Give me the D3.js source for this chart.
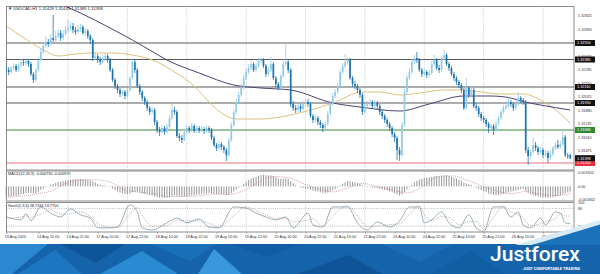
<!DOCTYPE html>
<html>
<head>
<meta charset="utf-8">
<script src="https://cdn.jsdelivr.net/npm/d3@7"></script>
<style>
    html, body { margin: 0; padding: 0; background: #ffffff; }
    svg { display: block; font-family: "Liberation Sans", "DejaVu Sans", sans-serif; }
</style>
</head>
<body>
<div id="chart"></div>
<script>
'use strict';

/* Котировки USDCAD H1: бар 0 = 13 Aug 2020 21:00, открытие бара = закрытие предыдущего */
const firstOpen = 1.3232;
const closes = [
    1.3228,1.3226,1.3230,1.3232,1.3228,1.3233,1.3236,1.3235,1.3237,1.3234,
    1.3224,1.3218,1.3228,1.3238,1.3246,1.3252,1.3256,1.3254,1.3260,1.3258,
    1.3262,1.3265,1.3260,1.3264,1.3268,1.3270,1.3272,1.3268,1.3266,1.3269,
    1.3271,1.3265,1.3267,1.3262,1.3258,1.3240,1.3242,1.3238,1.3236,1.3240,
    1.3242,1.3238,1.3228,1.3218,1.3212,1.3208,1.3204,1.3206,1.3202,1.3208,
    1.3220,1.3236,1.3228,1.3212,1.3206,1.3200,1.3196,1.3190,1.3186,1.3188,
    1.3176,1.3168,1.3166,1.3170,1.3166,1.3171,1.3180,1.3188,1.3186,1.3162,
    1.3160,1.3158,1.3166,1.3170,1.3168,1.3172,1.3167,1.3170,1.3168,1.3169,
    1.3167,1.3170,1.3168,1.3160,1.3153,1.3150,1.3154,1.3151,1.3148,1.3143,
    1.3158,1.3173,1.3186,1.3196,1.3203,1.3210,1.3220,1.3226,1.3230,1.3234,
    1.3228,1.3232,1.3237,1.3238,1.3232,1.3224,1.3228,1.3234,1.3220,1.3214,
    1.3210,1.3222,1.3234,1.3236,1.3228,1.3194,1.3190,1.3188,1.3192,1.3189,
    1.3194,1.3196,1.3194,1.3182,1.3178,1.3180,1.3176,1.3173,1.3170,1.3174,
    1.3184,1.3194,1.3202,1.3206,1.3212,1.3226,1.3232,1.3236,1.3238,1.3220,
    1.3214,1.3212,1.3208,1.3203,1.3186,1.3192,1.3194,1.3196,1.3192,1.3195,
    1.3192,1.3186,1.3182,1.3178,1.3174,1.3170,1.3164,1.3160,1.3148,1.3143,
    1.3173,1.3206,1.3220,1.3226,1.3236,1.3240,1.3238,1.3228,1.3224,1.3226,
    1.3223,1.3225,1.3234,1.3238,1.3230,1.3228,1.3240,1.3243,1.3234,1.3230,
    1.3224,1.3220,1.3216,1.3213,1.3208,1.3190,1.3210,1.3203,1.3208,1.3192,
    1.3190,1.3184,1.3180,1.3178,1.3174,1.3170,1.3172,1.3168,1.3174,1.3180,
    1.3186,1.3190,1.3192,1.3196,1.3194,1.3190,1.3194,1.3200,1.3198,1.3196,
    1.3148,1.3142,1.3146,1.3153,1.3150,1.3146,1.3148,1.3143,1.3145,1.3140,
    1.3144,1.3150,1.3153,1.3151,1.3154,1.3161,1.3143,1.31428,1.31398
];
const highs = [
    1.3235,1.3231,1.3232,1.3235,1.3234,1.3235,1.3239,1.3238,1.3240,1.3239,
    1.3236,1.3226,1.3230,1.3241,1.3250,1.3256,1.3262,1.3259,1.3264,1.3283,
    1.3267,1.3269,1.3268,1.3268,1.3272,1.3278,1.3276,1.3275,1.3271,1.3273,
    1.3274,1.3273,1.3270,1.3269,1.3264,1.3260,1.3246,1.3244,1.3241,1.3243,
    1.3245,1.3244,1.3240,1.3230,1.3220,1.3214,1.3210,1.3208,1.3208,1.3210,
    1.3222,1.3240,1.3238,1.3230,1.3214,1.3208,1.3202,1.3198,1.3192,1.3191,
    1.3190,1.3178,1.3171,1.3173,1.3172,1.3174,1.3183,1.3195,1.3191,1.3188,
    1.3165,1.3163,1.3168,1.3173,1.3172,1.3175,1.3174,1.3173,1.3172,1.3172,
    1.3171,1.3173,1.3172,1.3170,1.3162,1.3155,1.3157,1.3156,1.3153,1.3150,
    1.3160,1.3176,1.3189,1.3199,1.3206,1.3214,1.3223,1.3229,1.3234,1.3238,
    1.3236,1.3235,1.3240,1.3241,1.3240,1.3234,1.3231,1.3241,1.3236,1.3222,
    1.3216,1.3224,1.3237,1.3255,1.3238,1.3230,1.3197,1.3193,1.3195,1.3194,
    1.3197,1.3199,1.3199,1.3196,1.3184,1.3183,1.3182,1.3178,1.3175,1.3177,
    1.3187,1.3197,1.3205,1.3209,1.3215,1.3229,1.3235,1.3244,1.3241,1.3240,
    1.3222,1.3217,1.3214,1.3210,1.3205,1.3195,1.3197,1.3199,1.3198,1.3198,
    1.3197,1.3194,1.3188,1.3184,1.3180,1.3176,1.3172,1.3166,1.3162,1.3151,
    1.3176,1.3209,1.3223,1.3230,1.3239,1.3243,1.3246,1.3240,1.3230,1.3229,
    1.3228,1.3228,1.3237,1.3243,1.3240,1.3233,1.3242,1.3248,1.3245,1.3236,
    1.3232,1.3226,1.3222,1.3218,1.3215,1.3210,1.3220,1.3212,1.3211,1.3210,
    1.3195,1.3192,1.3186,1.3182,1.3180,1.3176,1.3175,1.3174,1.3177,1.3182,
    1.3188,1.3193,1.3195,1.3201,1.3198,1.3196,1.3197,1.3206,1.3202,1.3200,
    1.3198,1.3151,1.3149,1.3161,1.3156,1.3152,1.3151,1.3150,1.3148,1.3147,
    1.3147,1.3152,1.3156,1.3158,1.3157,1.3168,1.3163,1.3145,1.31443
];
const lows = [
    1.3225,1.3223,1.3224,1.3228,1.3226,1.3226,1.3231,1.3232,1.3233,1.3231,
    1.3222,1.3215,1.3216,1.3226,1.3236,1.3244,1.3250,1.3251,1.3252,1.3256,
    1.3255,1.3260,1.3257,1.3258,1.3262,1.3265,1.3267,1.3265,1.3263,1.3264,
    1.3266,1.3263,1.3262,1.3259,1.3254,1.3237,1.3238,1.3235,1.3233,1.3234,
    1.3238,1.3235,1.3226,1.3216,1.3209,1.3205,1.3201,1.3202,1.3199,1.3200,
    1.3206,1.3218,1.3225,1.3210,1.3203,1.3197,1.3193,1.3187,1.3183,1.3184,
    1.3173,1.3165,1.3162,1.3164,1.3163,1.3164,1.3169,1.3178,1.3183,1.3160,
    1.3157,1.3155,1.3157,1.3164,1.3165,1.3166,1.3165,1.3165,1.3165,1.3166,
    1.3164,1.3165,1.3165,1.3158,1.3151,1.3147,1.3148,1.3148,1.3145,1.3137,
    1.3141,1.3156,1.3171,1.3184,1.3194,1.3201,1.3208,1.3218,1.3224,1.3228,
    1.3226,1.3226,1.3230,1.3235,1.3230,1.3221,1.3222,1.3226,1.3218,1.3211,
    1.3208,1.3208,1.3220,1.3232,1.3225,1.3191,1.3187,1.3185,1.3186,1.3186,
    1.3187,1.3192,1.3191,1.3180,1.3175,1.3176,1.3173,1.3170,1.3166,1.3168,
    1.3172,1.3182,1.3192,1.3200,1.3204,1.3210,1.3224,1.3230,1.3233,1.3218,
    1.3211,1.3209,1.3205,1.3200,1.3183,1.3184,1.3190,1.3192,1.3189,1.3190,
    1.3189,1.3183,1.3179,1.3175,1.3171,1.3167,1.3161,1.3156,1.3138,1.3137,
    1.3141,1.3171,1.3204,1.3218,1.3224,1.3234,1.3235,1.3226,1.3221,1.3222,
    1.3220,1.3221,1.3223,1.3232,1.3228,1.3225,1.3226,1.3238,1.3232,1.3227,
    1.3222,1.3217,1.3213,1.3210,1.3205,1.3188,1.3188,1.3200,1.3201,1.3190,
    1.3187,1.3181,1.3177,1.3175,1.3171,1.3165,1.3168,1.3163,1.3166,1.3172,
    1.3178,1.3184,1.3188,1.3190,1.3191,1.3187,1.3188,1.3192,1.3195,1.3193,
    1.3145,1.3133,1.3139,1.3144,1.3147,1.3143,1.3144,1.3140,1.3141,1.3135,
    1.3138,1.3142,1.3148,1.3149,1.3149,1.3152,1.3141,1.3139,1.31389
];

/* Скользящие средние: номер бара и значение */
const maFastBars = [0,6,15,21,28,34,42,51,61,68,73,78,82,86,93,103,115,123,132,144,151,159,167,177,185,192,200,209,216,220,228];
const maFast = [1.3272,1.3262,1.3248,1.3242,1.3244,1.3245,1.3245,1.3243,1.3236,1.3226,1.3218,1.3207,1.3196,1.3187,1.3179,1.3179,1.3183,1.3188,1.3195,1.3206,1.3206,1.3203,1.3205,1.3208,1.3208,1.3206,1.3204,1.3204,1.3198,1.3192,1.3175];
const maSlowBars = [16,19,30,42,51,58,65,78,92,103,115,132,143,159,171,185,196,204,208,216,228];
const maSlow = [1.3300,1.3297,1.3285,1.3270,1.3258,1.3248,1.3238,1.3225,1.3213,1.3210,1.3208,1.3195,1.3191,1.3187,1.3194,1.3202,1.3202,1.3200,1.3197,1.3193,1.3188];

/* Горизонтальные уровни */
const levelPrices = [1.32550, 1.32385, 1.32110, 1.31950, 1.31680, 1.31350];
const levelKinds = ['gray', 'gray', 'gray', 'gray', 'green', 'red'];
const lastPrice = 1.31398;
const priceTicks = [1.32825,1.32690,1.32555,1.32420,1.32285,1.32150,1.32015,1.31880,1.31745,1.31610,1.31475];

/* MACD(12,26,9) */
const macdMain = [
    -0.00140,-0.00142,-0.00138,-0.00132,-0.00130,-0.00122,-0.00112,-0.00104,-0.00095,-0.00090,
    -0.00092,-0.00098,-0.00090,-0.00074,-0.00052,-0.00030,-0.00010,0.00005,0.00022,0.00034,
    0.00046,0.00058,0.00064,0.00072,0.00080,0.00088,0.00095,0.00098,0.00099,0.00100,
    0.00101,0.00098,0.00096,0.00092,0.00085,0.00066,0.00052,0.00038,0.00026,0.00018,
    0.00012,0.00004,-0.00010,-0.00030,-0.00050,-0.00068,-0.00084,-0.00095,-0.00105,-0.00108,
    -0.00100,-0.00080,-0.00072,-0.00078,-0.00086,-0.00095,-0.00104,-0.00114,-0.00124,-0.00128,
    -0.00138,-0.00148,-0.00155,-0.00156,-0.00158,-0.00156,-0.00148,-0.00136,-0.00126,-0.00132,
    -0.00138,-0.00142,-0.00140,-0.00134,-0.00130,-0.00124,-0.00120,-0.00114,-0.00110,-0.00106,
    -0.00102,-0.00096,-0.00092,-0.00094,-0.00100,-0.00106,-0.00108,-0.00110,-0.00112,-0.00118,
    -0.00112,-0.00094,-0.00070,-0.00044,-0.00018,0.00008,0.00036,0.00062,0.00086,0.00108,
    0.00120,0.00132,0.00144,0.00154,0.00158,0.00154,0.00150,0.00150,0.00140,0.00126,
    0.00110,0.00104,0.00106,0.00108,0.00102,0.00070,0.00042,0.00018,0.00000,-0.00014,
    -0.00022,-0.00028,-0.00032,-0.00044,-0.00056,-0.00064,-0.00072,-0.00080,-0.00088,-0.00090,
    -0.00084,-0.00070,-0.00052,-0.00034,-0.00014,0.00012,0.00036,0.00056,0.00072,0.00070,
    0.00062,0.00054,0.00046,0.00036,0.00014,0.00002,-0.00006,-0.00012,-0.00018,-0.00020,
    -0.00024,-0.00032,-0.00040,-0.00050,-0.00060,-0.00070,-0.00082,-0.00094,-0.00112,-0.00126,
    -0.00112,-0.00078,-0.00042,-0.00010,0.00024,0.00054,0.00078,0.00092,0.00102,0.00112,
    0.00118,0.00122,0.00130,0.00138,0.00140,0.00140,0.00146,0.00150,0.00148,0.00142,
    0.00132,0.00120,0.00106,0.00092,0.00076,0.00050,0.00040,0.00028,0.00020,0.00002,
    -0.00014,-0.00032,-0.00050,-0.00066,-0.00082,-0.00098,-0.00108,-0.00118,-0.00122,-0.00120,
    -0.00114,-0.00104,-0.00094,-0.00082,-0.00072,-0.00066,-0.00058,-0.00048,-0.00040,-0.00034,
    -0.00062,-0.00090,-0.00110,-0.00120,-0.00130,-0.00138,-0.00144,-0.00150,-0.00152,-0.00156,
    -0.00154,-0.00148,-0.00140,-0.00132,-0.00124,-0.00108,-0.00096,-0.00082,-0.00073
];
const macdSignalBars = [0,6,12,18,24,30,36,42,48,54,60,66,72,78,84,90,96,102,108,114,120,126,132,138,144,150,156,162,168,174,180,186,192,198,204,210,216,222,228];
const macdSignal = [-0.00150,-0.00135,-0.00105,-0.00065,0.00040,0.00085,0.00090,0.00060,-0.00050,-0.00080,-0.00100,-0.00140,-0.00140,-0.00130,-0.00105,-0.00110,-0.00060,0.00060,0.00135,0.00120,0.00040,-0.00030,-0.00075,-0.00020,0.00040,0.00000,-0.00050,-0.00090,-0.00010,0.00130,0.00145,0.00090,0.00010,-0.00060,-0.00100,-0.00070,-0.00110,-0.00125,-0.000975];
const macdTicks = [0.001902, 0, -0.001802];
const macdTickLabels = ['0.001902', '0.00', '-0.001802'];

/* Stochastic(5,3,3) */
const stochBars = [0,6,8,10,14,18,22,26,30,34,37,41,45,50,53,55,59,65,69,73,78,82,86,92,97,101,105,109,113,116,122,124,128,132,138,142,146,150,155,159,163,167,169,172,176,179,183,187,190,193,197,201,204,207,209,212,216,218,222,224,226,228];
const stochMain = [51,41,62,38,85,64,51,78,58,47,14,14,17,92,68,14,7,31,47,31,44,17,14,85,81,64,51,41,51,14,64,24,17,85,85,31,7,34,17,37,85,85,31,41,68,31,14,58,14,2,85,85,51,68,24,14,47,24,68,64,31,28.72];
const stochSignal = [48,50,55,50,60,75,60,62,68,52,30,16,15,60,82,55,20,22,40,38,38,30,16,55,85,72,58,46,46,35,40,45,20,55,88,55,18,20,25,28,60,88,60,40,52,50,25,35,36,10,50,88,68,58,45,22,28,35,45,62,54,53.78];
const stochTicks = [100, 80, 20, 0];
const stochLevels = [80, 20];

/* Подписи оси времени */
const timeLabelBars = [0,13,25,37,49,61,73,85,97,109,121,133,145,157,169,181,193,205,217,229];
const timeLabels = ['13 Aug 2020','14 Aug 10:00','14 Aug 22:00','17 Aug 10:00','17 Aug 22:00','18 Aug 10:00',
    '18 Aug 22:00','19 Aug 10:00','19 Aug 22:00','20 Aug 10:00','20 Aug 22:00','21 Aug 10:00','21 Aug 22:00',
    '24 Aug 10:00','24 Aug 22:00','25 Aug 10:00','25 Aug 22:00','26 Aug 10:00','26 Aug 22:00','27 Aug 10:00'];
const gridBars = [25,49,73,97,121,145,169,193,217];

/**
 График котировок в стиле терминала
 @class ForexChart
 */
class ForexChart {
    constructor(params) {
        this.params = params;
        this.left = 6.5;
        this.right = 574;
        this.main = {top: 6.5, bottom: 170};
        this.macd = {top: 171, bottom: 201};
        this.stoch = {top: 202.5, bottom: 232};

        // шкалы
        this.x = d3.scaleLinear().domain([0, 229]).range([6.2, 572.7]);
        this.yPrice = d3.scaleLinear().domain([1.3128, 1.3292]).range([170, 6]);
        this.yMacd = d3.scaleLinear().domain([-0.001802, 0.001902]).range([199.5, 172.5]);
        this.yStoch = d3.scaleLinear().domain([0, 100]).range([232, 202.5]);
    }

    makeSVG() {
        let svg = d3.select(this.params.id).append('svg')
            .attr('width', this.params.width)
            .attr('height', this.params.height);
        svg.append('rect').attr('width', this.params.width).attr('height', this.params.height).attr('fill', '#ffffff');
        svg.append('defs').append('clipPath').attr('id', 'mainClip')
            .append('rect')
            .attr('x', this.left).attr('y', this.main.top)
            .attr('width', this.right - this.left).attr('height', this.main.bottom - this.main.top);
        return svg;
    }

    /* рамки панелей и пунктирная сетка */
    drawFrames(svg) {
        [this.main, this.macd, this.stoch].forEach((p) => {
            svg.append('rect')
                .attr('x', this.left).attr('y', p.top)
                .attr('width', this.right - this.left).attr('height', p.bottom - p.top)
                .attr('fill', 'none').attr('stroke', '#8a8a8a').attr('stroke-width', 1);

            gridBars.forEach((b) => {
                svg.append('line')
                    .attr('x1', this.x(b)).attr('x2', this.x(b))
                    .attr('y1', p.top).attr('y2', p.bottom)
                    .attr('stroke', '#b4b4b4').attr('stroke-width', 0.7)
                    .attr('stroke-dasharray', '1,1.2');
            });
        });
    }

    drawLevels(svg) {
        let colors = {gray: '#5a5a5a', green: '#3b8a3b', red: '#e8737f'};
        levelPrices.forEach((p, i) => {
            svg.append('line')
                .attr('x1', this.left).attr('x2', this.right)
                .attr('y1', this.yPrice(p)).attr('y2', this.yPrice(p))
                .attr('stroke', colors[levelKinds[i]]).attr('stroke-width', 1);
        });
    }

    drawCandles(svg) {
        let g = svg.append('g').attr('clip-path', 'url(#mainClip)');
        closes.forEach((c, i) => {
            let o = i === 0 ? firstOpen : closes[i - 1];
            let up = c >= o;
            let color = up ? '#92cbe8' : '#1d74b0';
            let cx = this.x(i);

            g.append('line')
                .attr('x1', cx).attr('x2', cx)
                .attr('y1', this.yPrice(highs[i])).attr('y2', this.yPrice(lows[i]))
                .attr('stroke', color).attr('stroke-width', 0.8);

            let yTop = this.yPrice(Math.max(o, c));
            let h = Math.max(0.7, Math.abs(this.yPrice(o) - this.yPrice(c)));
            g.append('rect')
                .attr('x', cx - 0.85).attr('y', yTop)
                .attr('width', 1.7).attr('height', h)
                .attr('fill', color);
        });
    }

    drawMovingAverages(svg) {
        let g = svg.append('g').attr('clip-path', 'url(#mainClip)');
        let line = d3.line()
            .x((d) => this.x(d.bar))
            .y((d) => this.yPrice(d.v))
            .curve(d3.curveMonotoneX);

        let fast = maFastBars.map((b, i) => ({bar: b, v: maFast[i]}));
        let slow = maSlowBars.map((b, i) => ({bar: b, v: maSlow[i]}));

        g.append('path').attr('d', line(fast))
            .attr('fill', 'none').attr('stroke', '#dcc07e').attr('stroke-width', 1);
        g.append('path').attr('d', line(slow))
            .attr('fill', 'none').attr('stroke', '#4e4072').attr('stroke-width', 1);
    }

    /* правая шкала цены с метками уровней */
    drawPriceAxis(svg) {
        let axis = d3.axisRight(this.yPrice)
            .tickValues(priceTicks)
            .tickSize(0)
            .tickPadding(4)
            .tickFormat(d3.format('.5f'));
        let g = svg.append('g').attr('transform', `translate(${this.right},0)`).call(axis);
        g.select('.domain').remove();
        g.selectAll('text').attr('font-size', 3.8).attr('fill', '#333').attr('font-family', '"Liberation Sans", sans-serif');

        let boxes = levelPrices.map((p, i) => ({p: p, kind: levelKinds[i]}));
        boxes.push({p: lastPrice, kind: 'last'});
        let fills = {gray: '#111111', green: '#2f8a2f', red: '#e8303c', last: '#111111'};

        boxes.forEach((b) => {
            let y = this.yPrice(b.p);
            svg.append('rect')
                .attr('x', this.right + 1).attr('y', y - 3)
                .attr('width', 20).attr('height', 6)
                .attr('fill', fills[b.kind]);
            svg.append('text')
                .attr('x', this.right + 3).attr('y', y + 1.4)
                .attr('font-size', 3.8).attr('fill', '#ffffff')
                .text(d3.format('.5f')(b.p));
        });
    }

    drawMacd(svg) {
        let y0 = this.yMacd(0);
        macdMain.forEach((v, i) => {
            svg.append('line')
                .attr('x1', this.x(i)).attr('x2', this.x(i))
                .attr('y1', y0).attr('y2', this.yMacd(v))
                .attr('stroke', '#8c8c8c').attr('stroke-width', 0.9);
        });

        let line = d3.line()
            .x((d) => this.x(d.bar))
            .y((d) => this.yMacd(d.v))
            .curve(d3.curveMonotoneX);
        let sig = macdSignalBars.map((b, i) => ({bar: b, v: macdSignal[i]}));
        svg.append('path').attr('d', line(sig))
            .attr('fill', 'none').attr('stroke', '#c49090').attr('stroke-width', 0.8)
            .attr('stroke-dasharray', '1,1');

        let axis = d3.axisRight(this.yMacd)
            .tickValues(macdTicks)
            .tickSize(0)
            .tickPadding(4)
            .tickFormat((d, i) => macdTickLabels[i]);
        let g = svg.append('g').attr('transform', `translate(${this.right},0)`).call(axis);
        g.select('.domain').remove();
        g.selectAll('text').attr('font-size', 3.8).attr('fill', '#333');

        svg.append('text')
            .attr('x', 8).attr('y', this.macd.top + 4.2)
            .attr('font-size', 3.8).attr('fill', '#222')
            .text('MACD(12,26,9) -0.000730 -0.000975');
    }

    drawStoch(svg) {
        stochLevels.forEach((l) => {
            svg.append('line')
                .attr('x1', this.left).attr('x2', this.right)
                .attr('y1', this.yStoch(l)).attr('y2', this.yStoch(l))
                .attr('stroke', '#9a9a9a').attr('stroke-width', 0.7)
                .attr('stroke-dasharray', '1,1.2');
        });

        let line = d3.line()
            .x((d) => this.x(d.bar))
            .y((d) => this.yStoch(d.v))
            .curve(d3.curveMonotoneX);
        let main = stochBars.map((b, i) => ({bar: b, v: stochMain[i]}));
        let sig = stochBars.map((b, i) => ({bar: b, v: stochSignal[i]}));

        svg.append('path').attr('d', line(sig))
            .attr('fill', 'none').attr('stroke', '#b89a9a').attr('stroke-width', 0.8)
            .attr('stroke-dasharray', '1,1');
        svg.append('path').attr('d', line(main))
            .attr('fill', 'none').attr('stroke', '#7f9caa').attr('stroke-width', 0.8);

        let axis = d3.axisRight(this.yStoch)
            .tickValues(stochTicks)
            .tickSize(0)
            .tickPadding(4)
            .tickFormat(d3.format('d'));
        let g = svg.append('g').attr('transform', `translate(${this.right},0)`).call(axis);
        g.select('.domain').remove();
        g.selectAll('text').attr('font-size', 3.8).attr('fill', '#333');

        svg.append('text')
            .attr('x', 8).attr('y', this.stoch.top + 4.2)
            .attr('font-size', 3.8).attr('fill', '#222')
            .text('Stoch(5,3,3) 28.7244 53.7750');
    }

    drawTimeAxis(svg) {
        let axis = d3.axisBottom(this.x)
            .tickValues(timeLabelBars)
            .tickSize(2)
            .tickPadding(1.5)
            .tickFormat((d, i) => timeLabels[i]);
        let g = svg.append('g').attr('transform', `translate(0,${this.stoch.bottom})`).call(axis);
        g.select('.domain').remove();
        g.selectAll('line').attr('stroke', '#888').attr('stroke-width', 0.6);
        g.selectAll('text')
            .attr('font-size', 3.8).attr('fill', '#333')
            .attr('text-anchor', 'start')
            .attr('dx', -2);
    }

    drawHeader(svg) {
        svg.append('text')
            .attr('x', 8).attr('y', 10)
            .attr('font-size', 4.2).attr('fill', '#222')
            .text('\u25BC USDCAD,H1  1.31428 1.31443 1.31389 1.31398');
    }

    /* нижний баннер с логотипом */
    drawBanner(svg) {
        let g = svg.append('g');
        g.append('rect').attr('x', 0).attr('y', 244).attr('width', 600).attr('height', 30).attr('fill', '#1564ab');

        let facets = [
            {pts: [[0,244],[48,244],[12,274],[0,274]], c: '#2b88d0'},
            {pts: [[18,274],[55,250],[82,274]], c: '#1d76bf'},
            {pts: [[60,244],[125,244],[96,263]], c: '#0e5498'},
            {pts: [[100,274],[142,251],[178,274]], c: '#2a8ad2'},
            {pts: [[150,244],[216,244],[190,261]], c: '#1a70b8'},
            {pts: [[198,274],[214,249],[242,274]], c: '#3a97db'},
            {pts: [[232,244],[300,244],[266,257]], c: '#115ca3'},
            {pts: [[298,274],[348,255],[382,274]], c: '#0e5497'},
            {pts: [[380,244],[452,244],[420,262]], c: '#1a6cb4'},
            {pts: [[430,274],[470,251],[505,274]], c: '#125ea5'},
            {pts: [[515,245],[600,220],[600,224.5],[532,245]], c: '#d6eaf8'},
            {pts: [[532,245],[600,224.5],[600,245]], c: '#1b72bb'}
        ];
        facets.forEach((f) => {
            g.append('polygon')
                .attr('points', f.pts.map((p) => p.join(',')).join(' '))
                .attr('fill', f.c);
        });

        g.append('text')
            .attr('x', 490).attr('y', 261)
            .attr('font-family', 'Roboto, "Open Sans", sans-serif')
            .attr('font-size', 20).attr('font-weight', 500)
            .attr('fill', '#ffffff')
            .attr('textLength', 90).attr('lengthAdjust', 'spacingAndGlyphs')
            .text('Justforex');
        g.append('text')
            .attr('x', 523).attr('y', 269.5)
            .attr('font-family', 'Roboto, sans-serif')
            .attr('font-size', 4.2).attr('font-weight', 700)
            .attr('fill', '#ffffff')
            .attr('textLength', 57).attr('lengthAdjust', 'spacingAndGlyphs')
            .text('JUST COMFORTABLE TRADING');
    }

    render() {
        let svg = this.makeSVG();
        this.drawFrames(svg);
        this.drawLevels(svg);
        this.drawMovingAverages(svg);
        this.drawCandles(svg);
        this.drawHeader(svg);
        this.drawPriceAxis(svg);
        this.drawMacd(svg);
        this.drawStoch(svg);
        this.drawTimeAxis(svg);
        this.drawBanner(svg);
    }
}

new ForexChart({id: '#chart', width: 600, height: 274}).render();
</script>
</body>
</html>
